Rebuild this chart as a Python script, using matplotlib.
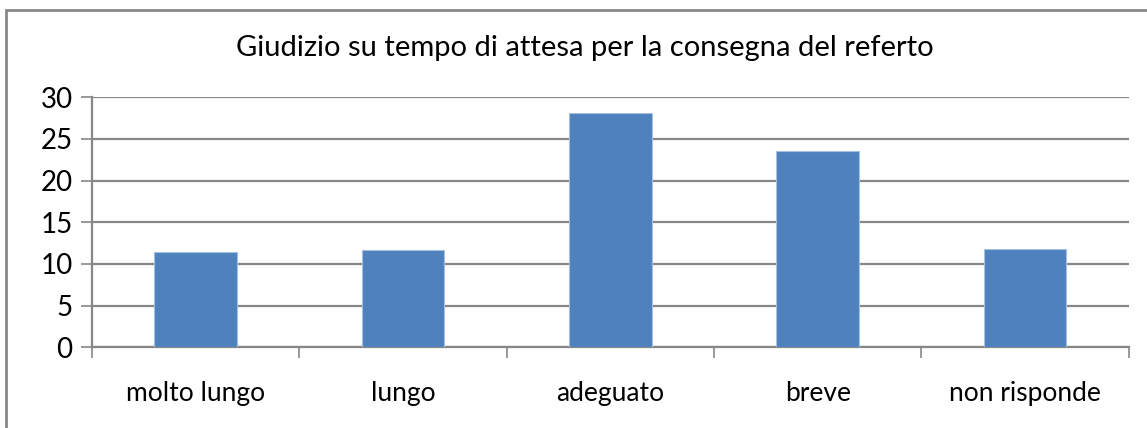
import matplotlib
matplotlib.use("Agg")
import matplotlib.pyplot as plt
from matplotlib.patches import Rectangle
import numpy as np

# data
categories = ["molto lungo", "lungo", "adeguato", "breve", "non risponde"]
values = [11.4, 11.7, 28.1, 23.6, 11.8]
yticks = [0, 5, 10, 15, 20, 25, 30]
title = "Giudizio su tempo di attesa per la consegna del referto"

plt.rcParams['font.family'] = ['Lato', 'DejaVu Sans']

grey = '#878787'
W, H = 1147, 428
fig = plt.figure(figsize=(W / 100, H / 100), dpi=100)
ax = fig.add_axes([92 / W, 1 - 347.3 / H, (1128.7 - 92) / W, 250 / H])

x = np.arange(len(categories))
ax.bar(x, values, width=0.4, color='#4F81BD', edgecolor='#A7BFDE', linewidth=0.8, zorder=3)

ax.set_xlim(-0.5, len(categories) - 0.5)
ax.set_ylim(0, 30)
ax.set_yticks(yticks)
ax.set_yticklabels([str(t) for t in yticks], fontsize=20)
ax.yaxis.grid(True, color=grey, linewidth=1.6, zorder=0)
ax.tick_params(axis='y', length=8, width=1.2, color=grey, pad=6)

# category labels centred, tick marks at category boundaries
ax.set_xticks(np.arange(len(categories) + 1) - 0.5)
ax.set_xticklabels([])
ax.set_xticks(x, minor=True)
ax.set_xticklabels(categories, minor=True, fontsize=19)
ax.tick_params(axis='x', which='major', length=8, width=1.2, color=grey, direction='out')
ax.tick_params(axis='x', which='minor', length=0, pad=24)

for side in ['top', 'right']:
    ax.spines[side].set_visible(False)
for side in ['left', 'bottom']:
    ax.spines[side].set_color(grey)
    ax.spines[side].set_linewidth(1.6)

fig.text(0.51, 1 - 48 / H, title, ha='center', va='center', fontsize=21)

# chart area border (right and bottom edges fall outside the picture)
fig.patches.append(Rectangle((6 / W, -0.05), 1.05, 1.05 - 10 / H + 0.0, transform=fig.transFigure,
                             fill=False, edgecolor=grey, linewidth=2))

fig.savefig("out.png", dpi=100)
